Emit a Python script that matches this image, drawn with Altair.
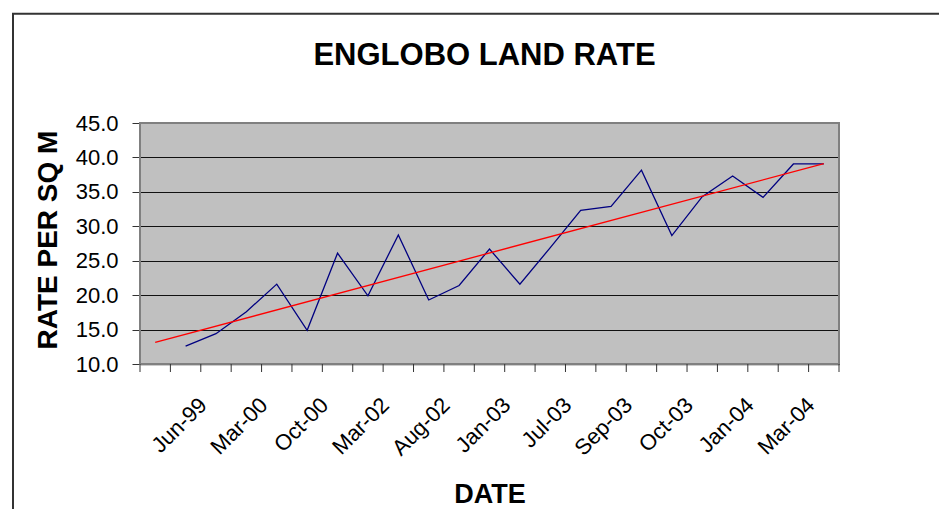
import json
import altair as alt
import pandas as pd

# ---- data ----
chart_title = "ENGLOBO LAND RATE"
tick_labels = ["Jun-99", "Mar-00", "Oct-00", "Mar-02", "Aug-02", "Jan-03",
               "Jul-03", "Sep-03", "Oct-03", "Jan-04", "Mar-04"]
rates = [12.6, 14.4, 17.6, 21.6, 14.9, 26.1, 19.9, 28.75, 19.3, 21.4, 26.7,
         21.6, 26.9, 32.3, 32.9, 38.15, 28.65, 34.3, 37.3, 34.2, 39.05, 39.05]
y_ticks = [10, 15, 20, 25, 30, 35, 40, 45]

n_cat = len(rates) + 1          # first category slot is empty
df = pd.DataFrame({"idx": list(range(1, n_cat)), "value": rates})

FONT = "Liberation Sans"
W, H = 699, 241

x_scale = alt.Scale(domain=[-0.5, n_cat - 0.5], nice=False, zero=False)
y_scale = alt.Scale(domain=[y_ticks[0], y_ticks[-1]], nice=False, zero=False)

label_expr = json.dumps(tick_labels) + "[(datum.value - 1) / 2]"

x_axis = alt.Axis(
    title="DATE", titleFont=FONT, titleFontSize=27, titleFontWeight="bold",
    titleColor="black", titleX=W / 2, titleY=138, titleBaseline="alphabetic",
    values=list(range(1, n_cat, 2)), labelExpr=label_expr,
    labelAngle=-45, labelAlign="right", labelBaseline="top",
    labelOffset=10, labelPadding=30, labelFont=FONT, labelFontSize=22,
    labelColor="black", labelFlush=False, labelOverlap=False, labelBound=False,
    ticks=False, grid=False, domain=True, domainColor="#333333", domainWidth=1.5,
)

y_axis = alt.Axis(
    title="RATE PER SQ M", titleFont=FONT, titleFontSize=28, titleFontWeight="bold",
    titleColor="black", titleX=-84, titleY=H / 2 - 4, titleBaseline="alphabetic",
    titleAngle=-90, titleAlign="center",
    values=y_ticks, tickCount=len(y_ticks), format=".1f",
    labelFont=FONT, labelFontSize=22, labelOverlap=False, labelFlush=False,
    labelColor="black", labelPadding=14, tickSize=8, tickColor="#333333",
    tickWidth=1, domain=False, grid=True, gridColor="#111111", gridWidth=1,
)

base = alt.Chart(df)

series = base.mark_line(color="#000080", strokeWidth=1.3).encode(
    x=alt.X("idx:Q", scale=x_scale, axis=x_axis),
    y=alt.Y("value:Q", scale=y_scale, axis=y_axis),
)

trend = base.transform_regression(
    "idx", "value", extent=[0, n_cat - 1]
).mark_line(color="#FF0000", strokeWidth=1.3).encode(
    x=alt.X("idx:Q", scale=x_scale),
    y=alt.Y("value:Q", scale=y_scale),
)

cat_ticks = alt.Chart(alt.sequence(0, n_cat + 1, as_="k")).transform_calculate(
    b="datum.k - 0.5"
).mark_rule(color="#333333", strokeWidth=1).encode(
    x=alt.X("b:Q", scale=x_scale),
    y=alt.value(H), y2=alt.value(H + 8),
)

# gray plot frame drawn over the grid
frame = alt.Chart(alt.Data(values=[{"a": 1}])).mark_rect(
    fillOpacity=0, stroke="#808080", strokeWidth=2
).encode(
    x=alt.value(0), x2=alt.value(W), y=alt.value(0), y2=alt.value(H),
)

border = alt.Chart(alt.Data(values=[{"a": 1}])).mark_rect(
    fillOpacity=0, stroke="#333333", strokeWidth=2
).encode(
    x=alt.value(-127), x2=alt.value(950),
    y=alt.value(-109.3), y2=alt.value(600),
)

title = alt.Chart(alt.Data(values=[{"t": chart_title}])).mark_text(
    font=FONT, fontSize=31, fontWeight="bold", color="black",
    align="center", baseline="alphabetic",
).encode(
    text="t:N", x=alt.value(W / 2 - 5), y=alt.value(-58),
)

chart = alt.layer(border, title, frame, cat_ticks, series, trend).properties(
    width=W, height=H,
    background="white",
    autosize=alt.AutoSizeParams(type="none"),
    padding={"left": 132, "top": 115, "right": 100, "bottom": 145},
).configure_view(
    fill="#C0C0C0", stroke="#808080", strokeWidth=2,
)

chart.save("out.html", embed_options={"renderer": "svg", "actions": False})
